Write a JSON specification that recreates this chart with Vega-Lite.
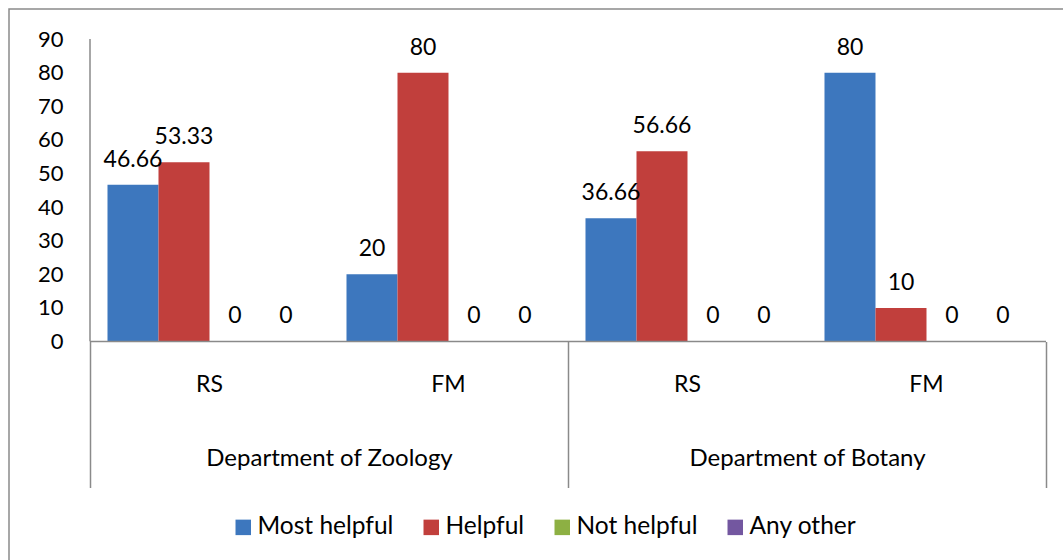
{
  "$schema": "https://vega.github.io/schema/vega-lite/v6.json",
  "width": 1070,
  "height": 560,
  "autosize": {"type": "none"},
  "padding": {"left": 9, "top": 9, "right": 0, "bottom": 0},
  "background": "white",
  "config": {
    "view": {"stroke": "#8a8a8a", "strokeWidth": 1.5},
    "font": "Lato",
    "axis": {"grid": false}
  },
  "data": {
    "values": [
      {"dept": "Department of Zoology", "cat": "Zoology RS", "series": "Most helpful", "value": 46.66},
      {"dept": "Department of Zoology", "cat": "Zoology RS", "series": "Helpful", "value": 53.33},
      {"dept": "Department of Zoology", "cat": "Zoology RS", "series": "Not helpful", "value": 0},
      {"dept": "Department of Zoology", "cat": "Zoology RS", "series": "Any other", "value": 0},
      {"dept": "Department of Zoology", "cat": "Zoology FM", "series": "Most helpful", "value": 20},
      {"dept": "Department of Zoology", "cat": "Zoology FM", "series": "Helpful", "value": 80},
      {"dept": "Department of Zoology", "cat": "Zoology FM", "series": "Not helpful", "value": 0},
      {"dept": "Department of Zoology", "cat": "Zoology FM", "series": "Any other", "value": 0},
      {"dept": "Department of Botany", "cat": "Botany RS", "series": "Most helpful", "value": 36.66},
      {"dept": "Department of Botany", "cat": "Botany RS", "series": "Helpful", "value": 56.66},
      {"dept": "Department of Botany", "cat": "Botany RS", "series": "Not helpful", "value": 0},
      {"dept": "Department of Botany", "cat": "Botany RS", "series": "Any other", "value": 0},
      {"dept": "Department of Botany", "cat": "Botany FM", "series": "Most helpful", "value": 80},
      {"dept": "Department of Botany", "cat": "Botany FM", "series": "Helpful", "value": 10},
      {"dept": "Department of Botany", "cat": "Botany FM", "series": "Not helpful", "value": 0},
      {"dept": "Department of Botany", "cat": "Botany FM", "series": "Any other", "value": 0}
    ]
  },
  "layer": [
    {
      "layer": [
        {
          "mark": {"type": "bar"},
          "encoding": {
            "x": {
              "field": "cat", "type": "nominal", "sort": null,
              "scale": {"domain": ["Zoology RS", "Zoology FM", "Botany RS", "Botany FM"], "paddingInner": 0, "paddingOuter": 0.2385, "align": 0.7105},
              "axis": {"orient": "bottom", "offset": -227.5, "title": null, "domain": false, "ticks": false, "tickSize": 0, "labelAngle": 0, "labelPadding": 32, "labelFontSize": 23, "labelColor": "black", "labelExpr": "slice(datum.label, -2)"}
            },
            "xOffset": {
              "field": "series", "type": "nominal", "sort": null,
              "scale": {"domain": ["Most helpful", "Helpful", "Not helpful", "Any other"], "paddingInner": 0, "paddingOuter": 0.343}
            },
            "y": {
              "field": "value", "type": "quantitative",
              "scale": {"domain": [-67.71, 98.96], "nice": false, "zero": false},
              "axis": {"orient": "left", "offset": -81, "title": null, "domain": false, "ticks": false, "tickSize": 0, "values": [0, 10, 20, 30, 40, 50, 60, 70, 80, 90], "labelPadding": 27, "labelFontSize": 22, "labelColor": "black"}
            },
            "y2": {"datum": 0},
            "color": {
              "field": "series", "type": "nominal", "sort": null,
              "scale": {"domain": ["Most helpful", "Helpful", "Not helpful", "Any other"], "range": ["#3D77BE", "#C13F3C", "#8DB043", "#7357A0"]},
              "legend": {"title": null, "orient": "none", "direction": "horizontal", "legendX": 222, "legendY": 506, "symbolType": "square", "symbolSize": 240, "symbolStrokeWidth": 0, "labelFontSize": 24.5, "labelOffset": 2, "columnPadding": 25, "labelColor": "black", "padding": 0, "labelLimit": 0}
            }
          }
        },
        {
          "mark": {"type": "text", "baseline": "alphabetic", "dy": -18, "fontSize": 23, "color": "black"},
          "encoding": {
            "x": {"field": "cat", "type": "nominal", "sort": null},
            "xOffset": {"field": "series", "type": "nominal", "sort": null},
            "y": {"field": "value", "type": "quantitative"},
            "text": {"field": "value", "type": "quantitative"}
          }
        }
      ]
    },
    {
      "transform": [{"aggregate": [{"op": "count", "as": "n"}], "groupby": ["dept"]}],
      "layer": [
        {
          "mark": {"type": "rect", "fillOpacity": 0, "stroke": "#8a8a8a", "strokeWidth": 1.5},
          "encoding": {
            "x": {
              "field": "dept", "type": "nominal", "sort": null,
              "scale": {"domain": ["Department of Zoology", "Department of Botany"], "paddingInner": 0, "paddingOuter": 0.11925, "align": 0.7105},
              "axis": {"orient": "bottom", "offset": -227.5, "title": null, "domain": false, "ticks": true, "tickBand": "extent", "tickSize": 146, "tickColor": "#8a8a8a", "tickWidth": 1.5, "labelAngle": 0, "labelPadding": -41, "labelFontSize": 24, "labelColor": "black", "labelLimit": 0}
            },
            "y": {"datum": 0, "type": "quantitative"},
            "y2": {"datum": 0}
          }
        },
        {
          "transform": [{"filter": "datum.dept === 'Department of Zoology'"}],
          "mark": {"type": "rule", "stroke": "#8a8a8a", "strokeWidth": 1.5},
          "encoding": {
            "x": {"field": "dept", "type": "nominal", "sort": null, "bandPosition": 0},
            "y": {"datum": 0, "type": "quantitative"},
            "y2": {"datum": 90}
          }
        }
      ]
    }
  ],
  "resolve": {"scale": {"x": "independent"}, "axis": {"x": "independent"}}
}
